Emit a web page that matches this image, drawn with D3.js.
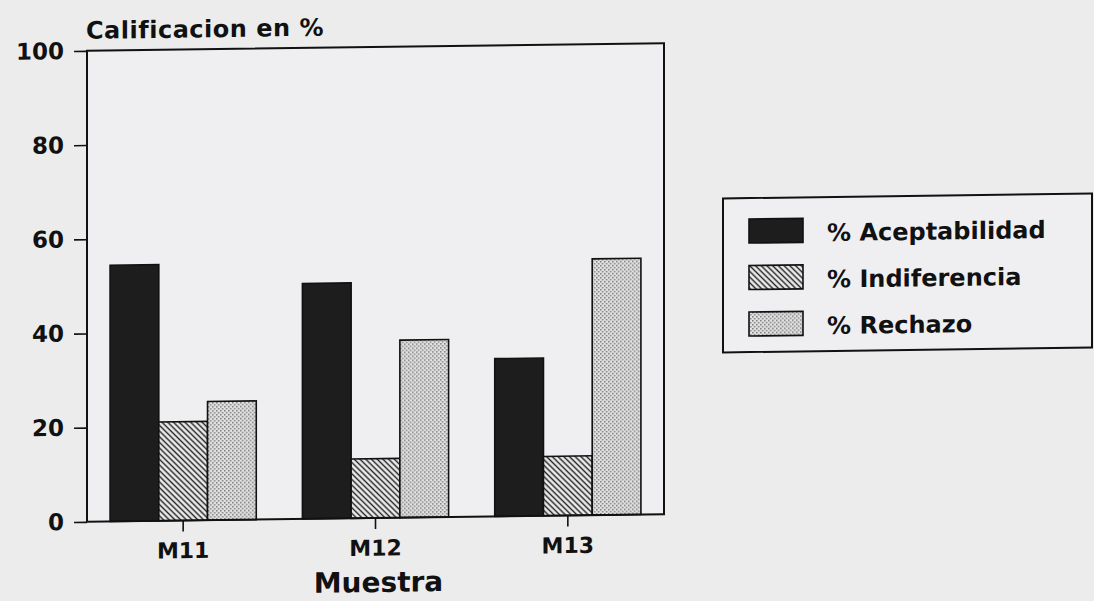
<!DOCTYPE html>
<html>
<head>
<meta charset="utf-8">
<script src="https://cdn.jsdelivr.net/npm/d3@7"></script>
<style>
    body { margin: 0; background: #ececec; }
    text { font-family: 'DejaVu Sans', sans-serif; font-weight: bold; fill: #111; }
</style>
</head>
<body>
<div id="chart"></div>
<script>

// Data
var categories = [ 'M11', 'M12', 'M13' ];
var series_names = [ '% Aceptabilidad', '% Indiferencia', '% Rechazo' ];
var aceptabilidad = [ 54.4, 50.0, 33.5 ];
var indiferencia = [ 21.0, 12.6, 12.6 ];
var rechazo = [ 25.2, 37.7, 54.4 ];
var y_ticks = [ 0, 20, 40, 60, 80, 100 ];

var values = [ aceptabilidad, indiferencia, rechazo ];
var fills = [ '#1d1d1d', 'url(#hatch)', 'url(#dots)' ];

// Size and plot area
var W = 1094, H = 601;
var plot = { left: 87, right: 664, top: 47, bottom: 518 };

var svg = d3.select( '#chart' )
            .append( 'svg' )
            .attr( 'width', W )
            .attr( 'height', H );

// Patterns for the bars
var defs = svg.append( 'defs' );

var hatch = defs.append( 'pattern' )
                .attr( 'id', 'hatch' )
                .attr( 'patternUnits', 'userSpaceOnUse' )
                .attr( 'width', 4 )
                .attr( 'height', 4 )
                .attr( 'patternTransform', 'rotate(-45)' );
hatch.append( 'rect' ).attr( 'width', 4 ).attr( 'height', 4 ).attr( 'fill', '#ebebeb' );
hatch.append( 'line' )
     .attr( 'x1', 2 ).attr( 'y1', 0 ).attr( 'x2', 2 ).attr( 'y2', 4 )
     .attr( 'stroke', '#222' ).attr( 'stroke-width', 1.4 );

var dots = defs.append( 'pattern' )
               .attr( 'id', 'dots' )
               .attr( 'patternUnits', 'userSpaceOnUse' )
               .attr( 'width', 4 )
               .attr( 'height', 4 );
dots.append( 'rect' ).attr( 'width', 4 ).attr( 'height', 4 ).attr( 'fill', '#e2e2e2' );
dots.append( 'rect' ).attr( 'x', 0 ).attr( 'y', 0 ).attr( 'width', 1.5 ).attr( 'height', 1.5 ).attr( 'fill', '#7a7a7a' );
dots.append( 'rect' ).attr( 'x', 2 ).attr( 'y', 2 ).attr( 'width', 1.5 ).attr( 'height', 1.5 ).attr( 'fill', '#7a7a7a' );

// The scan is slightly tilted, follow it with a small skew
var g = svg.append( 'g' )
           .attr( 'transform', 'translate(376,0) skewY(-0.76) translate(-376,0)' );

// Scales
var x = d3.scaleBand()
          .domain( categories )
          .range( [ plot.left, plot.right ] )
          .paddingInner( 0.24 )
          .paddingOuter( 0.12 );

var x_inner = d3.scaleBand()
                .domain( d3.range( series_names.length ) )
                .range( [ 0, x.bandwidth() ] );

var y = d3.scaleLinear()
          .domain( [ 0, 100 ] )
          .range( [ plot.bottom, plot.top ] );

// Plot frame background
g.append( 'rect' )
 .attr( 'x', plot.left )
 .attr( 'y', plot.top )
 .attr( 'width', plot.right - plot.left )
 .attr( 'height', plot.bottom - plot.top )
 .attr( 'fill', '#efeff1' );

// Bars
categories.forEach( function ( cat, i ) {
    values.forEach( function ( vals, s ) {
        g.append( 'rect' )
         .attr( 'class', 'bar' )
         .attr( 'x', x( cat ) + x_inner( s ) )
         .attr( 'y', y( vals[i] ) )
         .attr( 'width', x_inner.bandwidth() )
         .attr( 'height', y( 0 ) - y( vals[i] ) )
         .attr( 'fill', fills[s] )
         .attr( 'stroke', '#111' )
         .attr( 'stroke-width', 1.6 );
    } );
} );

// Frame
g.append( 'rect' )
 .attr( 'x', plot.left )
 .attr( 'y', plot.top )
 .attr( 'width', plot.right - plot.left )
 .attr( 'height', plot.bottom - plot.top )
 .attr( 'fill', 'none' )
 .attr( 'stroke', '#111' )
 .attr( 'stroke-width', 2 );

// Axes
var y_axis = g.append( 'g' )
              .attr( 'class', 'y axis' )
              .attr( 'transform', 'translate(' + plot.left + ',0)' )
              .call( d3.axisLeft( y ).tickValues( y_ticks ).tickSize( 13 ).tickPadding( 10 ).tickSizeOuter( 0 ) );

var x_axis = g.append( 'g' )
              .attr( 'class', 'x axis' )
              .attr( 'transform', 'translate(0,' + plot.bottom + ')' )
              .call( d3.axisBottom( x ).tickSize( 11 ).tickPadding( 11 ).tickSizeOuter( 0 ) );

[ y_axis, x_axis ].forEach( function ( ax ) {
    ax.select( '.domain' ).remove();
    ax.selectAll( 'line' ).attr( 'stroke', '#111' ).attr( 'stroke-width', 1.6 );
    ax.selectAll( 'text' ).style( 'font-family', "'DejaVu Sans', sans-serif" ).attr( 'fill', '#111' );
} );
y_axis.selectAll( 'text' ).style( 'font-size', '23px' );
x_axis.selectAll( 'text' ).style( 'font-size', '22px' );

// Titles
g.append( 'text' )
 .attr( 'x', 86 )
 .attr( 'y', 35 )
 .style( 'font-size', '24px' )
 .style( 'letter-spacing', '0.5px' )
 .text( 'Calificacion en %' );

g.append( 'text' )
 .attr( 'x', ( plot.left + plot.right ) / 2 + 3 )
 .attr( 'y', 592 )
 .attr( 'text-anchor', 'middle' )
 .style( 'font-size', '28px' )
 .text( 'Muestra' );

// Legend
var legend_box = { x: 723, y: 203, w: 369, h: 154 };

g.append( 'rect' )
 .attr( 'x', legend_box.x )
 .attr( 'y', legend_box.y )
 .attr( 'width', legend_box.w )
 .attr( 'height', legend_box.h )
 .attr( 'fill', '#efeff1' )
 .attr( 'stroke', '#111' )
 .attr( 'stroke-width', 2 );

var legend = g.selectAll( '.legend' )
              .data( series_names ).enter()
              .append( 'g' )
              .attr( 'class', 'legend' )
              .attr( 'transform', function ( d, i ) { return 'translate(0,' + ( 224 + i * 46.5 ) + ')'; } );

legend.append( 'rect' )
      .attr( 'x', 749 )
      .attr( 'width', 54 )
      .attr( 'height', 24 )
      .attr( 'fill', function ( d, i ) { return fills[i]; } )
      .attr( 'stroke', '#111' )
      .attr( 'stroke-width', 1.6 );

legend.append( 'text' )
      .attr( 'x', 827 )
      .attr( 'y', 23 )
      .style( 'font-size', '24px' )
      .text( function ( d ) { return d; } );

</script>
</body>
</html>
